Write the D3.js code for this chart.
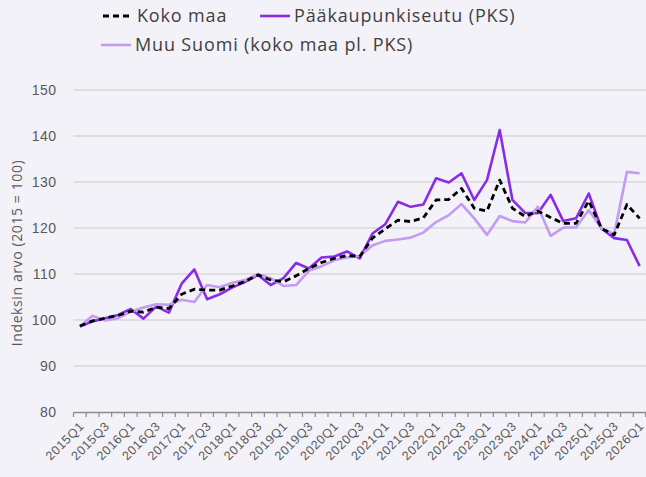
<!DOCTYPE html>
<html>
<head>
<meta charset="utf-8">
<script src="https://cdn.jsdelivr.net/npm/d3@7"></script>
<style>
  html, body { margin: 0; padding: 0; background: #f3f2f8; }
  svg { display: block; font-family: "Open Sans", "Noto Sans", sans-serif; }
</style>
</head>
<body>
<div id="chart"></div>
<script>
// quarters 2015Q1 .. 2026Q1
const quarters = [];
for (let y = 2015; y <= 2026; y++) {
  for (let q = 1; q <= 4; q++) {
    if (y === 2026 && q > 1) break;
    quarters.push(`${y}Q${q}`);
  }
}

const kokoMaa = [
  98.7, 99.8, 100.4, 101.0, 101.9, 101.7, 102.8, 102.5, 105.6, 106.7,
  106.5, 106.5, 107.4, 108.4, 109.8, 108.7, 108.3, 109.6, 111.2, 112.5,
  113.4, 114.0, 113.8, 117.8, 119.8, 121.7, 121.4, 122.2, 126.1, 126.2,
  128.6, 124.3, 123.7, 130.4, 124.3, 122.5, 123.7, 122.3, 121.0, 121.0,
  125.9, 119.9, 118.5, 125.1, 122.1
];

const pks = [
  98.6, 99.7, 100.4, 101.1, 102.4, 100.3, 102.9, 101.6, 107.9, 111.0,
  104.5, 105.6, 107.1, 108.3, 109.8, 107.6, 109.1, 112.4, 111.2, 113.6,
  113.8, 114.9, 113.4, 118.8, 120.8, 125.7, 124.6, 125.1, 130.8, 129.9,
  131.9, 126.1, 130.4, 141.3, 126.1, 123.3, 123.2, 127.2, 121.5, 122.1,
  127.5, 119.9, 117.8, 117.4, 111.7
];

const muuSuomi = [
  98.6, 100.9, 99.9, 100.4, 101.8, 102.7, 103.4, 103.3, 104.4, 103.9,
  107.6, 107.1, 108.1, 108.7, 110.0, 109.1, 107.4, 107.6, 110.7, 111.7,
  113.0, 113.6, 113.9, 116.2, 117.2, 117.5, 117.9, 119.0, 121.3, 122.8,
  125.2, 122.1, 118.5, 122.6, 121.5, 121.2, 124.6, 118.3, 120.1, 120.1,
  123.9, 119.9, 118.7, 132.2, 131.9
];

const yTicks = [80, 90, 100, 110, 120, 130, 140, 150];

const series = [
  { name: 'Pääkaupunkiseutu (PKS)', values: pks, color: '#8a2be6', width: 2.6, dash: null },
  { name: 'Muu Suomi (koko maa pl. PKS)', values: muuSuomi, color: '#c29cf2', width: 2.6, dash: null },
  { name: 'Koko maa', values: kokoMaa, color: '#000000', width: 2.8, dash: '6,4' }
];

const width = 646, height = 477;
const margin = { top: 90, right: 0, bottom: 65, left: 73.5 };

const svg = d3.select('#chart').append('svg')
  .attr('width', width)
  .attr('height', height);

svg.append('rect').attr('width', width).attr('height', height).attr('fill', '#f3f2f8');

const x = d3.scaleBand()
  .domain(quarters)
  .range([margin.left, width - margin.right])
  .paddingInner(0).paddingOuter(0);

const y = d3.scaleLinear()
  .domain([80, 150])
  .range([412, 90]);

// gridlines
svg.append('g')
  .selectAll('line')
  .data(yTicks.filter(d => d > 80))
  .enter().append('line')
  .attr('x1', margin.left)
  .attr('x2', width - margin.right)
  .attr('y1', d => y(d))
  .attr('y2', d => y(d))
  .attr('stroke', '#d9d9d9')
  .attr('stroke-width', 1.3);

// y axis labels
const yAxis = svg.append('g')
  .attr('transform', `translate(${margin.left},0)`)
  .call(d3.axisLeft(y).tickValues(yTicks).tickSize(0).tickPadding(17));
yAxis.select('.domain').remove();
yAxis.selectAll('text')
  .attr('fill', '#595959')
  .style('font-size', '14px')
  .style('letter-spacing', '0.5px');

// y axis title
svg.append('text')
  .attr('transform', 'translate(22,253) rotate(-90)')
  .attr('text-anchor', 'middle')
  .attr('fill', '#595959')
  .style('font-size', '14px')
  .style('letter-spacing', '0.6px')
  .text('Indeksin arvo (2015 = 100)');

// x axis
const xAxis = svg.append('g')
  .attr('transform', `translate(0,${y(80)})`)
  .call(d3.axisBottom(x)
    .tickValues(quarters.filter((d, i) => i % 2 === 0))
    .tickSize(0)
    .tickPadding(0));
xAxis.select('.domain')
  .attr('stroke', '#8c8c8c')
  .attr('stroke-width', 1.3);
xAxis.selectAll('text')
  .attr('fill', '#595959')
  .style('font-size', '12.5px')
  .style('letter-spacing', '0.6px')
  .attr('text-anchor', 'end')
  .attr('dy', 0)
  .attr('transform', 'translate(5,15) rotate(-45)');

// boundary tick marks
const tickPos = quarters.map(d => x(d)).concat([x.range()[1] - 0.5]);
svg.append('g')
  .selectAll('line')
  .data(tickPos)
  .enter().append('line')
  .attr('x1', d => d).attr('x2', d => d)
  .attr('y1', y(80)).attr('y2', y(80) + 5)
  .attr('stroke', '#8c8c8c')
  .attr('stroke-width', 1.2);

// lines
const line = d3.line()
  .x((d, i) => x(quarters[i]) + x.bandwidth() / 2)
  .y(d => y(d));

svg.append('g')
  .selectAll('path')
  .data(series)
  .enter().append('path')
  .attr('d', d => line(d.values))
  .attr('fill', 'none')
  .attr('stroke', d => d.color)
  .attr('stroke-width', d => d.width)
  .attr('stroke-dasharray', d => d.dash)
  .attr('stroke-linejoin', 'round');

// legend
const legendItems = [
  { s: series[2], x: 103, y: 16 },
  { s: series[0], x: 260, y: 16 },
  { s: series[1], x: 101, y: 45 }
];
const legend = svg.append('g')
  .selectAll('g')
  .data(legendItems)
  .enter().append('g')
  .attr('transform', d => `translate(${d.x},${d.y})`);
legend.append('line')
  .attr('x1', 0).attr('x2', 30)
  .attr('stroke', d => d.s.color)
  .attr('stroke-width', d => d.s.width)
  .attr('stroke-dasharray', d => d.s.dash);
legend.append('text')
  .attr('x', 34)
  .attr('dy', '0.35em')
  .attr('fill', '#404040')
  .style('font-size', '18px')
  .style('letter-spacing', '0.85px')
  .text(d => d.s.name);
</script>
</body>
</html>
